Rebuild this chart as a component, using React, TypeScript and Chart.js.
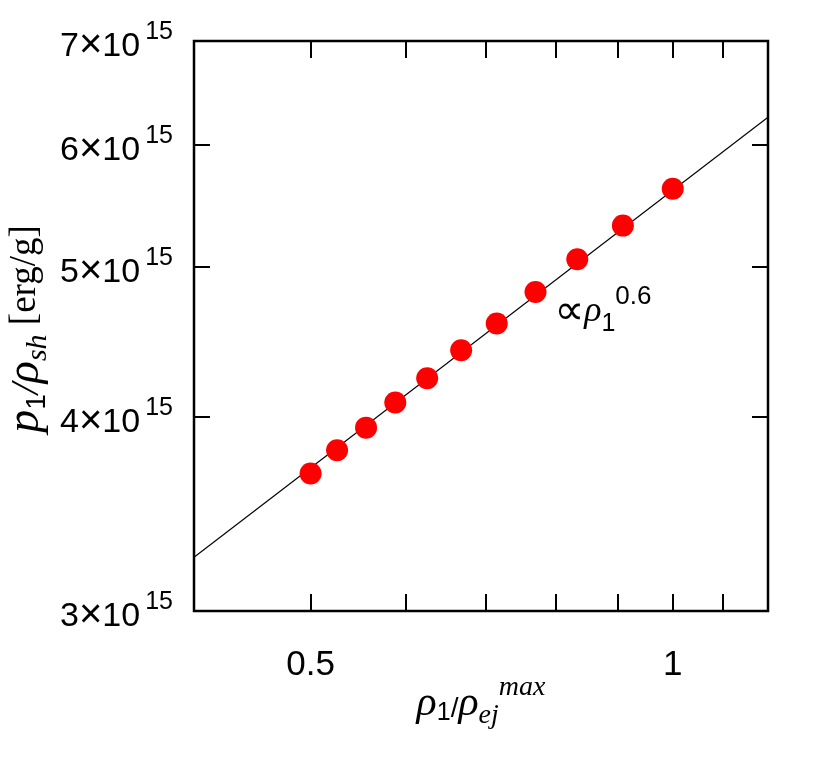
import { useEffect, useRef } from 'react';
import { Chart, registerables } from 'chart.js';

Chart.register(...registerables);

// ---- data ----
const densityRatio = [0.5, 0.526, 0.556, 0.588, 0.625, 0.667, 0.714, 0.769, 0.833, 0.909, 1.0];
const specificPressure = [3.68e15, 3.81e15, 3.94e15, 4.09e15, 4.24e15, 4.42e15, 4.6e15, 4.82e15, 5.06e15, 5.32e15, 5.62e15];
const fitX = [0.4, 1.2];
const fitY = [3.25e15, 6.25e15];

const xTickValues = [0.5, 0.6, 0.7, 0.8, 0.9, 1.0, 1.1];
const xLabelValues = [0.5, 1.0];
const xLabelTexts = ['0.5', '1'];
const yTickValues = [3e15, 4e15, 5e15, 6e15, 7e15];
const yTickMantissas = ['3', '4', '5', '6', '7'];
const yTickExponent = '15';

const xRange = [0.4, 1.2];
const yRange = [3e15, 7e15];
const annotationAnchor = [0.8, 4.62e15];

const SANS = '"Liberation Sans", Arial, Helvetica, sans-serif';
const SERIF = '"Liberation Serif", "Times New Roman", serif';
const SYMBOL = '"DejaVu Sans", sans-serif';

type Run = { text: string; font: string; dy: number };

function runsWidth(ctx: CanvasRenderingContext2D, runs: Run[]) {
  let w = 0;
  for (const r of runs) {
    ctx.font = r.font;
    w += ctx.measureText(r.text).width;
  }
  return w;
}

function drawRuns(ctx: CanvasRenderingContext2D, runs: Run[], x: number, y: number) {
  let cx = x;
  ctx.textAlign = 'left';
  ctx.textBaseline = 'alphabetic';
  for (const r of runs) {
    ctx.font = r.font;
    ctx.fillText(r.text, cx, y + r.dy);
    cx += ctx.measureText(r.text).width;
  }
}

const framePlugin = {
  id: 'gnuFrame',
  afterDraw(chart: any) {
    const { ctx, chartArea: a, scales } = chart;
    const xs = scales.x;
    const ys = scales.y;
    ctx.save();
    ctx.strokeStyle = '#000';
    ctx.fillStyle = '#000';

    // ticks (inward, mirrored)
    ctx.lineWidth = 2;
    ctx.beginPath();
    for (const v of xTickValues) {
      const px = Math.round(xs.getPixelForValue(v));
      ctx.moveTo(px, a.bottom);
      ctx.lineTo(px, a.bottom - 17);
      ctx.moveTo(px, a.top);
      ctx.lineTo(px, a.top + 17);
    }
    for (const v of yTickValues) {
      const py = Math.round(ys.getPixelForValue(v));
      ctx.moveTo(a.left, py);
      ctx.lineTo(a.left + 16, py);
      ctx.moveTo(a.right, py);
      ctx.lineTo(a.right - 16, py);
    }
    ctx.stroke();

    // frame
    ctx.lineWidth = 2.5;
    ctx.strokeRect(a.left, a.top, a.right - a.left, a.bottom - a.top);

    // x tick labels
    ctx.font = `35px ${SANS}`;
    ctx.textAlign = 'center';
    ctx.textBaseline = 'alphabetic';
    xLabelValues.forEach((v, i) => {
      ctx.fillText(xLabelTexts[i], xs.getPixelForValue(v), a.bottom + 64);
    });

    // y tick labels  N×10^15
    const rightEdge = a.left - 21;
    yTickValues.forEach((v, i) => {
      const py = ys.getPixelForValue(v);
      ctx.font = `25px ${SANS}`;
      const ws = ctx.measureText(yTickExponent).width;
      ctx.textAlign = 'left';
      ctx.fillText(yTickExponent, rightEdge - ws, py - 2);
      const mainRuns: Run[] = [
        { text: yTickMantissas[i], font: `34px ${SANS}`, dy: 0 },
        { text: '×', font: `40px ${SANS}`, dy: 1 },
        { text: '10', font: `34px ${SANS}`, dy: 0 },
      ];
      const mw = runsWidth(ctx, mainRuns);
      drawRuns(ctx, mainRuns, rightEdge - ws - 5 - mw, py + 15);
    });

    // x axis title  ρ1/ρej^max
    const xRuns: Run[] = [
      { text: 'ρ', font: `italic 42px ${SERIF}`, dy: 0 },
      { text: '1', font: `25px ${SANS}`, dy: 5 },
      { text: '/', font: `28px ${SANS}`, dy: 2 },
      { text: 'ρ', font: `italic 42px ${SERIF}`, dy: 0 },
      { text: 'ej', font: `italic 28px ${SERIF}`, dy: 8 },
      { text: 'max', font: `italic 28px ${SERIF}`, dy: -20 },
    ];
    const xw = runsWidth(ctx, xRuns);
    drawRuns(ctx, xRuns, (a.left + a.right) / 2 - xw / 2, 715);

    // y axis title  p1/ρsh [erg/g]
    const yRuns: Run[] = [
      { text: 'p', font: `italic 46px ${SERIF}`, dy: 0 },
      { text: '1', font: `28px ${SANS}`, dy: 7 },
      { text: '/', font: `italic 40px ${SERIF}`, dy: 0 },
      { text: 'ρ', font: `italic 46px ${SERIF}`, dy: 0 },
      { text: 'sh', font: `italic 30px ${SERIF}`, dy: 8 },
      { text: ' [erg/g]', font: `37px ${SERIF}`, dy: -3 },
    ];
    const yw = runsWidth(ctx, yRuns);
    ctx.save();
    ctx.translate(38, 329);
    ctx.rotate(-Math.PI / 2);
    drawRuns(ctx, yRuns, -yw / 2, 0);
    ctx.restore();

    // annotation ∝ρ1^0.6
    const ax = xs.getPixelForValue(annotationAnchor[0]);
    const ay = ys.getPixelForValue(annotationAnchor[1]);
    const aRuns: Run[] = [
      { text: '∝', font: `42px ${SYMBOL}`, dy: 3 },
      { text: 'ρ', font: `italic 36px ${SERIF}`, dy: 0 },
      { text: '1', font: `25px ${SANS}`, dy: 10 },
      { text: '0.6', font: `26px ${SANS}`, dy: -17 },
    ];
    drawRuns(ctx, aRuns, ax - 2, ay);

    ctx.restore();
  },
};

export default function App() {
  const ref = useRef<HTMLCanvasElement | null>(null);

  useEffect(() => {
    if (!ref.current) return;
    const chart = new Chart(ref.current, {
      type: 'scatter',
      data: {
        datasets: [
          {
            label: 'fit',
            data: fitX.map((x, i) => ({ x, y: fitY[i] })),
            showLine: true,
            borderColor: '#000',
            borderWidth: 1.2,
            pointRadius: 0,
            fill: false,
            order: 2,
          },
          {
            label: 'simulation',
            data: densityRatio.map((x, i) => ({ x, y: specificPressure[i] })),
            backgroundColor: '#ff0000',
            borderColor: '#ff0000',
            borderWidth: 0,
            pointRadius: 11,
            pointHoverRadius: 11,
            order: 1,
          },
        ],
      },
      options: {
        responsive: false,
        animation: false,
        events: [],
        layout: { padding: { left: 194, right: 62, top: 41, bottom: 149 } },
        plugins: {
          legend: { display: false },
          tooltip: { enabled: false },
        },
        scales: {
          x: { type: 'logarithmic', min: xRange[0], max: xRange[1], display: false },
          y: { type: 'logarithmic', min: yRange[0], max: yRange[1], display: false },
        },
      },
      plugins: [framePlugin],
    });
    return () => chart.destroy();
  }, []);

  return (
    <div style={{ position: 'fixed', left: 0, top: 0, width: 830, height: 760, background: '#fff' }}>
      <canvas ref={ref} width={830} height={760} style={{ display: 'block' }} />
    </div>
  );
}
